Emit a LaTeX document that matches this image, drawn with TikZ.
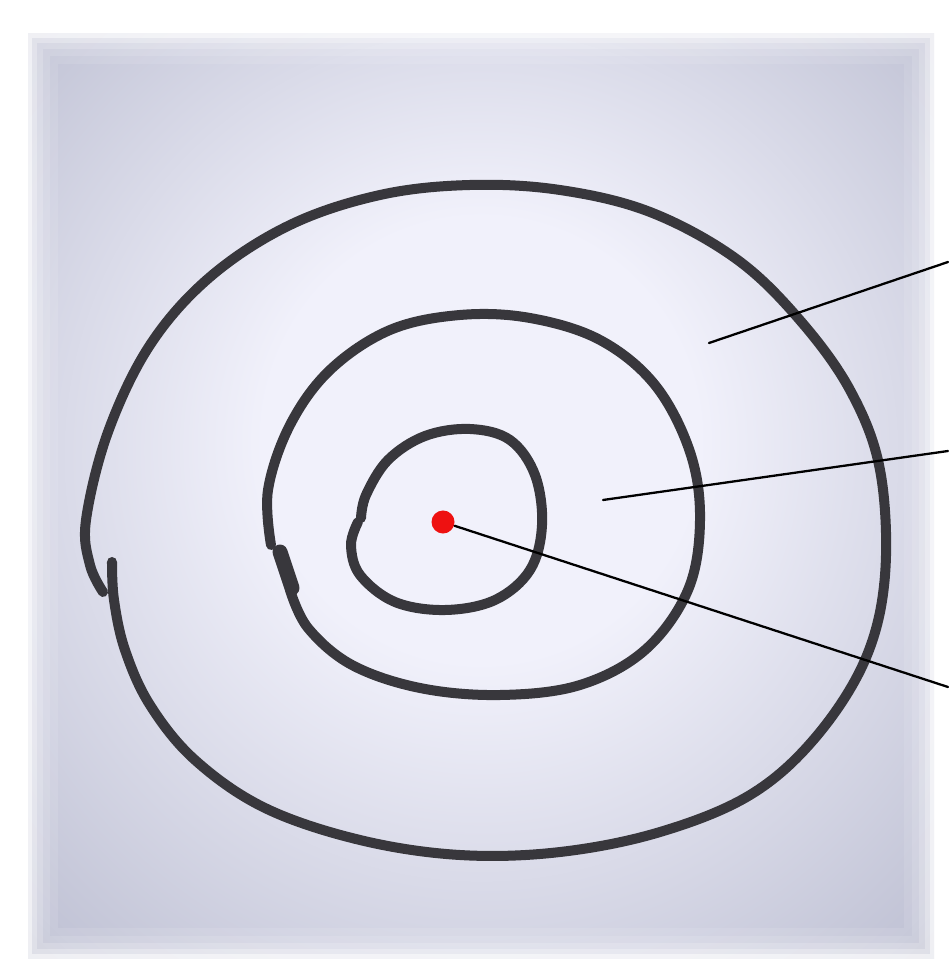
\documentclass[tikz,border=0pt]{standalone}
\usepackage{tikz}
\usepackage{xcolor}
\usetikzlibrary{positioning}
\definecolor{paperlight}{HTML}{F1F1FB}
\definecolor{papermid}{HTML}{C2C4D6}
\definecolor{paperdark}{HTML}{8E91A4}
\definecolor{markerink}{HTML}{38373C}
\definecolor{dotred}{HTML}{EE1111}
\pgfdeclareradialshading{photo paper}{\pgfpoint{0bp}{4bp}}{color(0bp)=(paperlight); color(12bp)=(paperlight); color(34bp)=(papermid); color(50bp)=(paperdark)}
\tikzset{
  every picture/.append style={line cap=round,line join=round},
  ring marker/.style={markerink,line width=0.1cm},
  ring blob/.style={markerink,line width=0.15cm},
  ring pointer/.style={black,line width=0.65pt},
  ring dot/.style={circle,fill=dotred,inner sep=0pt,minimum size=0.23cm}
}
\begin{document}
\begin{tikzpicture}[x=0.01cm,y=-0.01cm]
  \useasboundingbox (0,0) rectangle (948,980);
  % paper and soft photo border
  \fill[white] (0,0) rectangle (948,980);
  \shade[shading=photo paper] (28,34) rectangle (934,958);
  \foreach \w/\o in {60/0.1,44/0.12,30/0.18,18/0.28,8/0.5}
    \draw[white,opacity=\o,line width=\w*0.01cm] (28,34) rectangle (934,958);

  % outer ring
  \draw[ring marker] plot[smooth,tension=0.6] coordinates {
    (112,562) (114,600) (125,650) (150,705) (195,760) (265,808) (360,840)
    (460,855) (560,852) (660,832) (750,795) (815,738) (865,660) (885,575)
    (880,470) (850,390) (798,318) (735,258) (650,212) (560,190) (470,185)
    (380,195) (290,225) (210,277) (150,345) (108,432) (86,520) (90,565) (103,592)};

  % middle ring
  \draw[ring marker] plot[smooth,tension=0.6] coordinates {
    (290,590) (308,628) (352,665) (420,688) (500,695) (580,685) (645,650)
    (688,590) (700,520) (690,452) (655,385) (600,340) (530,318) (460,315)
    (390,330) (330,370) (290,425) (268,490) (271,545)};
  \draw[ring blob] (280,552) -- (292,588);

  % inner ring
  \draw[ring marker] plot[smooth,tension=0.6] coordinates {
    (358,522) (351,545) (360,575) (395,602) (445,610) (495,600) (530,570)
    (542,525) (535,475) (510,440) (470,429) (425,436) (388,460) (366,495) (361,518)};

  % centre and pointers
  \node[ring dot] (centre dot) at (443,522) {};
  \coordinate (outer mark) at (709,343);
  \coordinate (middle mark) at (603,500);
  \coordinate (outer end) at (948,262);
  \coordinate (middle end) at (948,451);
  \coordinate (centre end) at (948,687);
  \draw[ring pointer] (outer mark) -- (outer end);
  \draw[ring pointer] (middle mark) -- (middle end);
  \draw[ring pointer] (centre dot) -- (centre end);
\end{tikzpicture}
\end{document}
